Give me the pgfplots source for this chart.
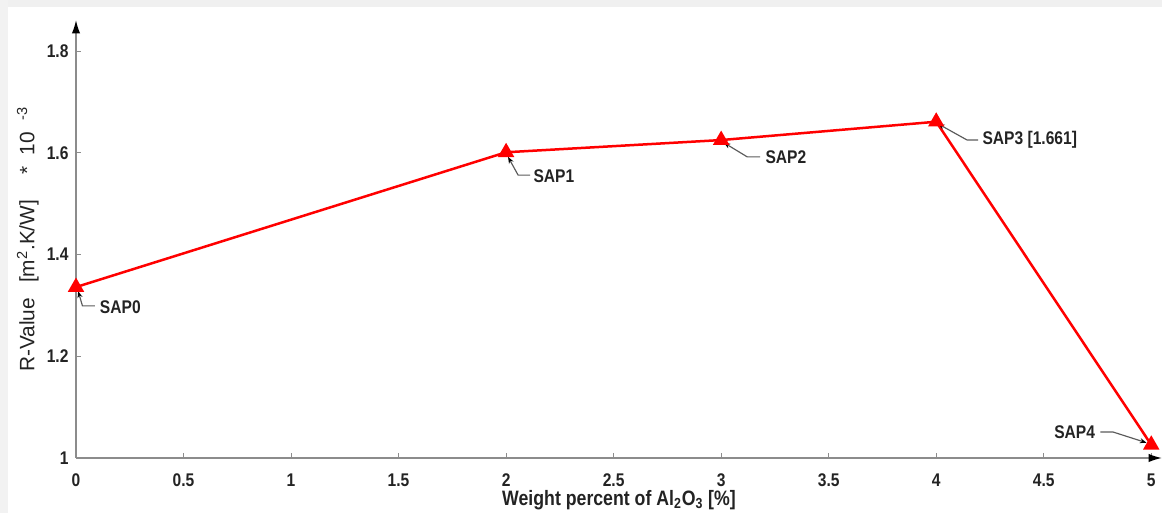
\documentclass[border=0pt]{standalone}
\usepackage{fontspec}
\setmainfont{Liberation Sans}
\newfontfamily\narrowbold[FakeStretch=0.85]{Liberation Sans Bold}
\usepackage{pgfplots}
\pgfplotsset{compat=1.18}
\usetikzlibrary{arrows.meta}
\definecolor{ticktxt}{RGB}{35,35,35}
\definecolor{axgray}{RGB}{140,140,140}
\definecolor{anngray}{RGB}{90,90,90}
\begin{document}
\begin{tikzpicture}
\fill[black!6] (-45.6pt,270.6pt) rectangle (655pt,274.8pt);
\fill[black!5] (-45.6pt,-33pt) rectangle (-41pt,274.8pt);
\begin{axis}[
  scale only axis,
  width=651.6pt, height=262.8pt,
  xmin=0, xmax=5.05, ymin=1, ymax=1.861,
  axis lines=left,
  axis line style={axgray, line width=0.9pt, -{Latex[black,length=8pt,width=5pt]}},
  xtick={0,0.5,...,5}, ytick={1,1.2,1.4,1.6,1.8},
  xticklabels={0,0.5,1,1.5,2,2.5,3,3.5,4,4.5,5},
  yticklabels={1,1.2,1.4,1.6,1.8},
  tick align=inside,
  major tick length=3pt,
  tick style={axgray, line width=0.6pt},
  ticklabel style={font=\narrowbold\fontsize{11}{12}\selectfont, text=ticktxt},
  xticklabel style={yshift=-6pt},
  yticklabel style={xshift=-1pt},
  xlabel={\narrowbold\fontsize{12.5}{13}\selectfont Weight percent of Al\textsubscript{2}O\textsubscript{3} [\%]},
  ylabel={\fontsize{12.5}{13}\selectfont R-Value\hspace{9pt}[m\textsuperscript{2}.K/W]\hspace{15pt}*\hspace{7pt}10\hspace{7pt}\textsuperscript{-3}},
  xlabel style={at={(axis description cs:0.5,0)}, anchor=north, yshift=-19pt, inner sep=0pt, text=ticktxt},
  ylabel style={yshift=-2pt, text=ticktxt},
  clip=false,
]
\addplot[red, line width=1.5pt, mark=triangle*, mark size=4.2pt, mark options={fill=red, draw=red}]
  coordinates {(0,1.336) (2,1.601) (3,1.625) (4,1.661) (5,1.026)};
\tikzset{ann/.style={draw=anngray, line width=0.7pt, -{Stealth[black,length=4pt,width=3pt]}},
         lab/.style={font=\narrowbold\fontsize{11}{12}\selectfont, text=ticktxt, inner sep=0pt}}
\draw[ann] (axis cs:0.088,1.299) -- (axis cs:0.030,1.299) -- (axis cs:0.010,1.328);
\node[lab, anchor=west] at (axis cs:0.110,1.297) {SAP0};
\draw[ann] (axis cs:2.112,1.556) -- (axis cs:2.056,1.556) -- (axis cs:2.009,1.592);
\node[lab, anchor=west] at (axis cs:2.126,1.553) {SAP1};
\draw[ann] (axis cs:3.181,1.592) -- (axis cs:3.121,1.592) -- (axis cs:3.012,1.620);
\node[lab, anchor=west] at (axis cs:3.205,1.591) {SAP2};
\draw[ann] (axis cs:4.195,1.625) -- (axis cs:4.144,1.625) -- (axis cs:4.008,1.657);
\node[lab, anchor=west] at (axis cs:4.214,1.625) {SAP3 [1.661]};
\draw[ann] (axis cs:4.763,1.051) -- (axis cs:4.823,1.051) -- (axis cs:4.978,1.030);
\node[lab, anchor=east] at (axis cs:4.740,1.051) {SAP4};
\end{axis}
\pgfresetboundingbox
\path[use as bounding box] (-45.6pt,-33pt) rectangle (651.6pt,274.8pt);
\end{tikzpicture}
\end{document}
